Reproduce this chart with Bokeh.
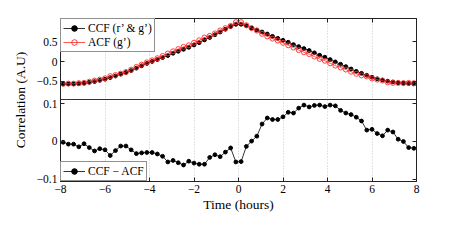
from bokeh.plotting import figure
from bokeh.models import Range1d, LinearAxis, FixedTicker, Span, Legend, LegendItem, ColumnDataSource
from bokeh.embed import file_html
from bokeh.resources import INLINE

# ---------------- data ----------------
time_h = [-7.882, -7.647, -7.412, -7.176, -6.941, -6.706, -6.471, -6.235, -6.000, -5.765,
          -5.529, -5.294, -5.059, -4.824, -4.588, -4.353, -4.118, -3.882, -3.647, -3.412,
          -3.176, -2.941, -2.706, -2.471, -2.235, -2.000, -1.765, -1.529, -1.294, -1.059,
          -0.824, -0.588, -0.353, -0.118, 0.118, 0.353, 0.588, 0.824, 1.059, 1.294,
          1.529, 1.765, 2.000, 2.235, 2.471, 2.706, 2.941, 3.176, 3.412, 3.647,
          3.882, 4.118, 4.353, 4.588, 4.824, 5.059, 5.294, 5.529, 5.765, 6.000,
          6.235, 6.471, 6.706, 6.941, 7.176, 7.412, 7.647, 7.882]

ccf = [-0.570, -0.570, -0.570, -0.565, -0.550, -0.530, -0.510, -0.480, -0.450, -0.410,
       -0.370, -0.320, -0.280, -0.230, -0.170, -0.110, -0.050, 0.000, 0.050, 0.100,
       0.150, 0.210, 0.260, 0.310, 0.360, 0.420, 0.480, 0.550, 0.610, 0.680,
       0.750, 0.820, 0.890, 0.946, 0.947, 0.910, 0.850, 0.800, 0.750, 0.700,
       0.640, 0.590, 0.540, 0.490, 0.430, 0.380, 0.330, 0.280, 0.220, 0.160,
       0.110, 0.050, -0.010, -0.070, -0.130, -0.190, -0.250, -0.300, -0.350, -0.400,
       -0.440, -0.470, -0.500, -0.520, -0.540, -0.550, -0.560, -0.570]

acf = [-0.568, -0.563, -0.563, -0.551, -0.544, -0.514, -0.485, -0.461, -0.428, -0.373,
       -0.346, -0.308, -0.268, -0.208, -0.138, -0.080, -0.021, 0.029, 0.083, 0.139,
       0.204, 0.260, 0.316, 0.372, 0.412, 0.477, 0.540, 0.610, 0.652, 0.715,
       0.790, 0.848, 0.907, 1.000, 1.000, 0.923, 0.849, 0.786, 0.704, 0.638,
       0.582, 0.532, 0.475, 0.413, 0.355, 0.292, 0.234, 0.189, 0.125, 0.064,
       0.018, -0.046, -0.104, -0.152, -0.205, -0.261, -0.314, -0.354, -0.380, -0.432,
       -0.461, -0.485, -0.530, -0.545, -0.546, -0.550, -0.544, -0.552]

diff = [-0.002, -0.007, -0.007, -0.014, -0.006, -0.016, -0.025, -0.019, -0.022, -0.037,
        -0.024, -0.012, -0.012, -0.022, -0.032, -0.030, -0.029, -0.029, -0.033, -0.039,
        -0.054, -0.050, -0.056, -0.062, -0.052, -0.057, -0.060, -0.060, -0.042, -0.035,
        -0.040, -0.028, -0.017, -0.054, -0.053, -0.013, 0.001, 0.014, 0.046, 0.062,
        0.058, 0.058, 0.065, 0.077, 0.075, 0.088, 0.096, 0.091, 0.095, 0.096,
        0.092, 0.096, 0.094, 0.082, 0.075, 0.071, 0.064, 0.054, 0.030, 0.032,
        0.021, 0.015, 0.030, 0.025, 0.006, 0.000, -0.016, -0.018]

x_ticks = [-8, -6, -4, -2, 0, 2, 4, 6, 8]
x_tick_labels = ["\u22128", "\u22126", "\u22124", "\u22122", "0", "2", "4", "6", "8"]
top_ticks = [-0.5, 0.0, 0.5]
top_tick_labels = ["\u22120.5", "0", "0.5"]
bot_ticks = [-0.1, 0.0, 0.1]
bot_tick_labels = ["\u22120.1", "0", "0.1"]

# ---------------- layout of the two stacked panels ----------------
Y_LO, Y_HI = -3.053, 1.094       # whole frame in top-panel units
TOP_LO = -0.967                  # boundary between the panels
BOT_OFF, BOT_SCALE = -2.035, 9.65  # bottom panel value w -> BOT_OFF + BOT_SCALE*w

FONT = "Liberation Serif"
RED = "#ff2a2a"

p = figure(output_backend="svg", toolbar_location=None,
           frame_width=356, frame_height=163,
           min_border_left=60, min_border_right=28, min_border_top=18, min_border_bottom=52,
           x_range=Range1d(-8, 8), y_range=Range1d(Y_LO, Y_HI))
p.extra_y_ranges = {"bot": Range1d((Y_LO - BOT_OFF) / BOT_SCALE, (Y_HI - BOT_OFF) / BOT_SCALE)}
p.background_fill_color = "white"
p.border_fill_color = "white"
p.outline_line_color = "#222222"
p.outline_line_width = 1

src = ColumnDataSource(dict(t=time_h, ccf=ccf, acf=acf, diff=diff))

l1 = p.line("t", "ccf", source=src, line_color="black", line_width=0.8)
s1 = p.scatter("t", "ccf", source=src, size=3.8, fill_color="black", line_color="black")
l2 = p.line("t", "acf", source=src, line_color=RED, line_width=0.8)
s2 = p.scatter("t", "acf", source=src, size=5, fill_color=None, line_color=RED, line_width=0.9)
l3 = p.line("t", "diff", source=src, line_color="black", line_width=0.8, y_range_name="bot")
s3 = p.scatter("t", "diff", source=src, size=3.8, fill_color="black", line_color="black",
               y_range_name="bot")

p.add_layout(Span(location=TOP_LO, dimension="width", line_color="#333333", line_width=1.2))

# grid
p.ygrid.visible = False
p.xgrid.ticker = FixedTicker(ticks=x_ticks[1:-1])
p.xgrid.grid_line_color = "#b8b8b8"
p.xgrid.grid_line_dash = "1 2"
p.xgrid.grid_line_width = 0.8

# x axis
xa = p.xaxis[0]
xa.ticker = FixedTicker(ticks=x_ticks)
xa.major_label_overrides = {float(k): v for k, v in zip(x_ticks, x_tick_labels)}
xa.axis_label = "Time (hours)"

# y axis (one axis for both panels)
left_pos = top_ticks + [BOT_OFF + BOT_SCALE * w for w in bot_ticks]
left_lab = top_tick_labels + bot_tick_labels
ya = p.yaxis[0]
ya.ticker = FixedTicker(ticks=left_pos)
ya.major_label_overrides = {float(k): v for k, v in zip(left_pos, left_lab)}
ya.axis_label = "Correlation (A.U)"

top_ax = LinearAxis(ticker=FixedTicker(ticks=x_ticks))
right_ax = LinearAxis(ticker=FixedTicker(ticks=left_pos))
p.add_layout(top_ax, "above")
p.add_layout(right_ax, "right")

for ax in (xa, ya, top_ax, right_ax):
    ax.axis_line_color = "#222222"
    ax.major_tick_in = 4
    ax.major_tick_out = 0
    ax.minor_tick_line_color = None
    ax.major_tick_line_color = "#222222"
    ax.major_label_text_font = FONT
    ax.major_label_text_font_size = "11.5px"
    ax.major_label_text_color = "black"
    ax.axis_label_text_font = FONT
    ax.axis_label_text_font_size = "13.5px"
    ax.axis_label_text_font_style = "normal"
    ax.axis_label_text_color = "black"
    ax.major_label_standoff = 3
for ax in (top_ax, right_ax):
    ax.major_label_text_color = None
    ax.major_label_standoff = 0
xa.axis_label_standoff = 1
ya.axis_label_standoff = 6

# legends
def style_legend(lg):
    lg.label_text_font = FONT
    lg.label_text_font_size = "11.5px"
    lg.label_text_color = "black"
    lg.border_line_color = "#222222"
    lg.border_line_width = 1
    lg.background_fill_color = "white"
    lg.background_fill_alpha = 1
    lg.margin = 0
    lg.padding = 2
    lg.spacing = 0
    lg.label_height = 14
    lg.glyph_height = 14
    lg.glyph_width = 22
    lg.label_standoff = 3

leg_top = Legend(items=[LegendItem(label="CCF (r\u2019 & g\u2019)", renderers=[l1, s1]),
                        LegendItem(label="ACF (g\u2019)", renderers=[l2, s2])],
                 location="top_left")
leg_bot = Legend(items=[LegendItem(label="CCF \u2212 ACF", renderers=[l3, s3])],
                 location="bottom_left")
style_legend(leg_top)
style_legend(leg_bot)
p.add_layout(leg_top)
p.add_layout(leg_bot)

open("out.html", "w").write(file_html(p, INLINE))
